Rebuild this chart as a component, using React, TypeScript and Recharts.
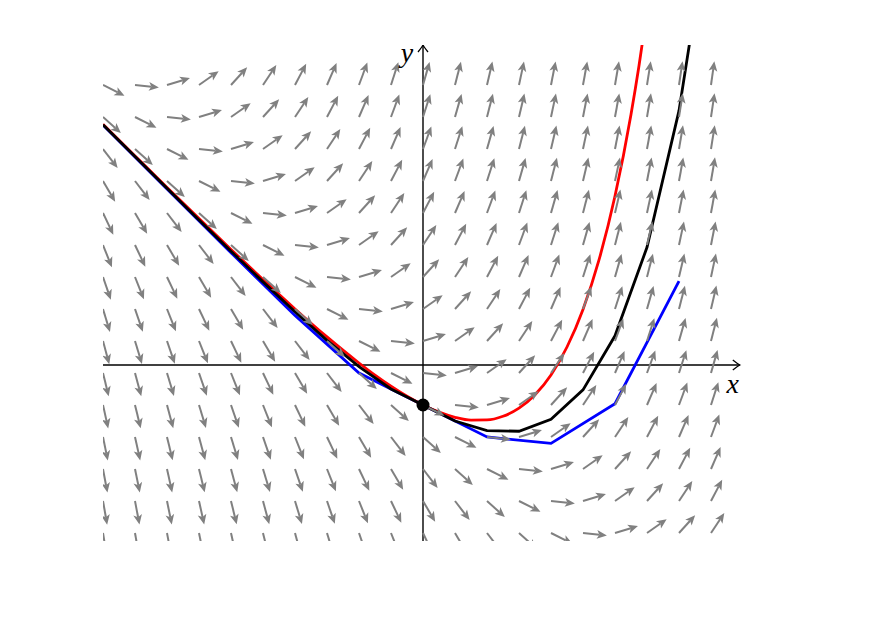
import { ComposedChart, Line, Scatter, XAxis, YAxis } from 'recharts';

// direction field of y' = x + y, with y(0) = -0.5
const fieldX = [-4, -3.6, -3.2, -2.8, -2.4, -2, -1.6, -1.2, -0.8, -0.4, 0, 0.4, 0.8, 1.2, 1.6, 2, 2.4, 2.8, 3.2, 3.6];
const fieldY = [-2.1, -1.7, -1.3, -0.9, -0.5, -0.1, 0.3, 0.7, 1.1, 1.5, 1.9, 2.3, 2.7, 3.1, 3.5];
const rhs = (x: number, y: number) => x + y;

// exact solution (red)
const exactX = [-4, -3.6, -3.2, -2.8, -2.4, -2, -1.6, -1.2, -0.8, -0.6, -0.4, -0.2, 0, 0.2, 0.4, 0.6, 0.8, 1, 1.2, 1.4, 1.6, 1.8, 2, 2.2, 2.4, 2.6, 2.7, 2.8];
const exactY = [3.009, 2.614, 2.22, 1.83, 1.445, 1.068, 0.701, 0.351, 0.025, -0.126, -0.265, -0.391, -0.5, -0.589, -0.654, -0.689, -0.687, -0.641, -0.54, -0.372, -0.124, 0.225, 0.695, 1.313, 2.112, 3.132, 3.74, 4.422];

// Euler, h = 0.4 (black)
const eulerSmallX = [-4, -3.6, -3.2, -2.8, -2.4, -2, -1.6, -1.2, -0.8, -0.4, 0, 0.4, 0.8, 1.2, 1.6, 2, 2.4, 2.8, 3.2, 3.6];
const eulerSmallY = [3.003, 2.605, 2.208, 1.814, 1.423, 1.039, 0.665, 0.308, -0.02, -0.3, -0.5, -0.7, -0.82, -0.828, -0.679, -0.311, 0.365, 1.471, 3.179, 5.731];

// Euler, h = 0.8 (blue)
const eulerBigX = [-4, -3.2, -2.4, -1.6, -0.8, 0, 0.8, 1.6, 2.4, 3.2];
const eulerBigY = [3.0, 2.201, 1.404, 0.62, -0.1, -0.5, -0.9, -0.98, -0.484, 1.049];

const start = { x: 0, y: -0.5 };

const zip = (xs: number[], ys: number[]) => xs.map((x, i) => ({ x, y: ys[i] }));

const fieldData = fieldX.flatMap((x) => fieldY.map((y) => ({ x, y, s: rhs(x, y) })));
const xAxisData = [{ x: -4, y: 0 }, { x: 3.96, y: 0 }];
const yAxisData = [{ x: 0, y: -2.2 }, { x: 0, y: 4 }];

const GRAY = '#808080';

const FieldArrow = (props: any) => {
  const { cx, cy, payload } = props;
  const f = payload.s;
  const n = Math.sqrt(1 + f * f);
  const ux = 1 / n;
  const uy = -f / n;
  const L = 24;
  const hl = 10;
  const hw = 4.4;
  const tx = cx + ux * L;
  const ty = cy + uy * L;
  const bx = cx + ux * (L - hl);
  const by = cy + uy * (L - hl);
  const ix = cx + ux * (L - hl + 2.5);
  const iy = cy + uy * (L - hl + 2.5);
  const px = -uy;
  const py = ux;
  return (
    <g>
      <line x1={cx} y1={cy} x2={ix} y2={iy} stroke={GRAY} strokeWidth={2} />
      <polygon
        points={`${tx},${ty} ${bx + px * hw},${by + py * hw} ${ix},${iy} ${bx - px * hw},${by - py * hw}`}
        fill={GRAY}
      />
    </g>
  );
};

const axisEnd = (dir: 'x' | 'y') => (props: any) => {
  const { cx, cy, index } = props;
  if (index !== 1) return <g key={`a${dir}${index}`} />;
  if (dir === 'x') {
    return (
      <g key="ax">
        <path d={`M${cx - 7},${cy - 5} Q${cx - 2},${cy - 1} ${cx},${cy} Q${cx - 2},${cy + 1} ${cx - 7},${cy + 5}`} fill="none" stroke="#000" strokeWidth={1.3} />
        <text x={cx - 7} y={cy + 28} textAnchor="middle" fontFamily="Liberation Serif" fontStyle="italic" fontSize={28}>x</text>
      </g>
    );
  }
  return (
    <g key="ay">
      <path d={`M${cx - 5},${cy + 7} Q${cx - 1},${cy + 2} ${cx},${cy} Q${cx + 1},${cy + 2} ${cx + 5},${cy + 7}`} fill="none" stroke="#000" strokeWidth={1.3} />
      <text x={cx - 16} y={cy + 17} textAnchor="middle" fontFamily="Liberation Serif" fontStyle="italic" fontSize={28}>y</text>
    </g>
  );
};

const StartDot = (props: any) => <circle cx={props.cx} cy={props.cy} r={6.5} fill="#000" />;

export default function App() {
  return (
    <ComposedChart width={860} height={600} margin={{ top: 37, right: 125, bottom: 67, left: 95 }}>
      <XAxis type="number" dataKey="x" domain={[-4, 4]} allowDataOverflow hide />
      <YAxis type="number" dataKey="y" domain={[-2.2, 4]} allowDataOverflow hide />
      <Scatter data={fieldData} dataKey="y" shape={FieldArrow} isAnimationActive={false} />
      <Line data={xAxisData} dataKey="y" type="linear" stroke="#000" strokeWidth={1.4} dot={axisEnd('x')} activeDot={false} isAnimationActive={false} />
      <Line data={yAxisData} dataKey="y" type="linear" stroke="#000" strokeWidth={1.4} dot={axisEnd('y')} activeDot={false} isAnimationActive={false} />
      <Line data={zip(eulerBigX, eulerBigY)} dataKey="y" type="linear" stroke="#0000ff" strokeWidth={2.8} dot={false} activeDot={false} isAnimationActive={false} />
      <Line data={zip(exactX, exactY)} dataKey="y" type="monotone" stroke="#ff0000" strokeWidth={2.8} dot={false} activeDot={false} isAnimationActive={false} />
      <Line data={zip(eulerSmallX, eulerSmallY)} dataKey="y" type="linear" stroke="#000" strokeWidth={2.8} dot={false} activeDot={false} isAnimationActive={false} />
      <Scatter data={[start]} dataKey="y" shape={StartDot} isAnimationActive={false} />
    </ComposedChart>
  );
}
